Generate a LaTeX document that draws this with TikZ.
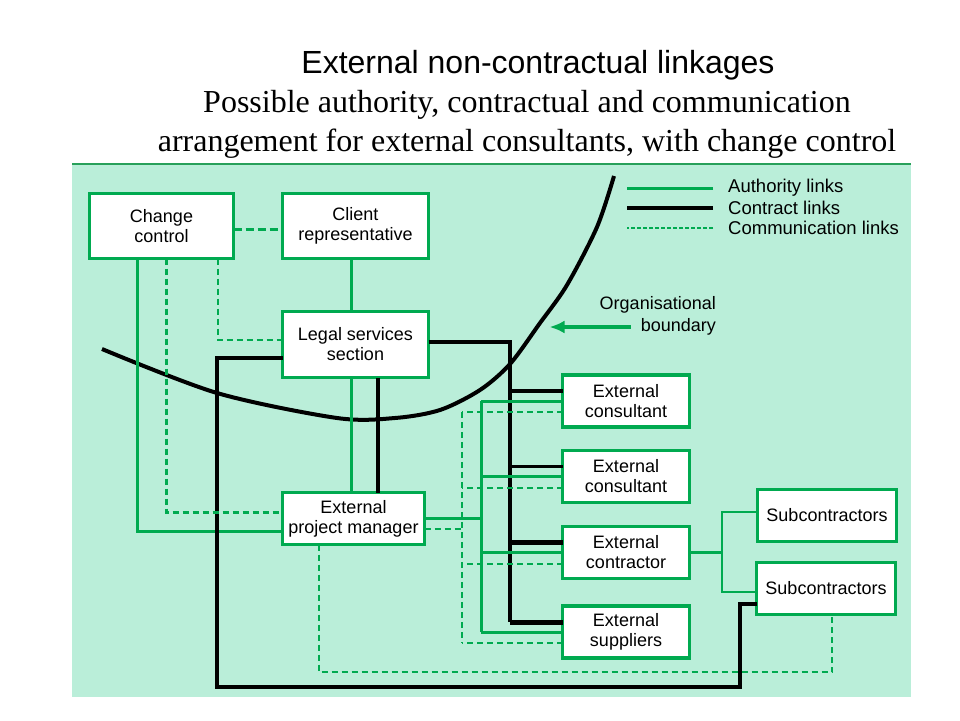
\documentclass[tikz,border=0pt]{standalone}
\usepackage{fontspec}
\setmainfont{Liberation Sans}
\newfontfamily\subtitlefont{Liberation Serif}
\usetikzlibrary{arrows.meta,positioning}
\definecolor{linkgreen}{RGB}{0,170,80}
\definecolor{panelgreen}{RGB}{186,238,217}
\definecolor{rulegreen}{RGB}{40,160,90}
\tikzset{font=\fontsize{18}{20}\selectfont}
\tikzset{box/.style={draw=linkgreen,line width=3.5pt,fill=white,align=center,inner sep=0pt,outer sep=0pt}}
\tikzset{auth/.style={draw=linkgreen,line width=3pt}}
\tikzset{contract/.style={draw=black,line width=3.5pt}}
\tikzset{comm/.style={draw=linkgreen,line width=2pt,dash pattern=on 6pt off 4pt}}
\tikzset{legend/.style={anchor=west,inner sep=0pt,font=\fontsize{18.5}{20}\selectfont}}

\begin{document}
\begin{tikzpicture}[x=1pt,y=-1pt]
  \useasboundingbox (0,0) rectangle (960,720);
  \fill[white] (0,0) rectangle (960,720);
  \fill[panelgreen] (72,164) rectangle (911,697);
  \draw[rulegreen,line width=2pt] (72,164) -- (911,164);

  \node[font=\fontsize{32}{34}\selectfont] (title) at (538,65) {External non-contractual linkages};
  \node[font=\subtitlefont\fontsize{32}{39}\selectfont,align=center] (subtitle) at (527,124)
    {Possible authority, contractual and communication\\arrangement for external consultants, with change control};

  \draw[line width=4pt] plot[smooth] coordinates {(102,349) (217,393) (337,418) (395,418) (440,410) (480,390) (510,364) (540,323) (567,285) (597,227) (614,176)};

  \node[box,minimum width=144pt,minimum height=65pt] (cc) at (161.5,226) {Change\\control};
  \node[box,minimum width=146pt,minimum height=65pt] (crep) at (355.5,226) {Client\\representative};
  \node[box,minimum width=146pt,minimum height=66pt] (lss) at (355.5,344.5) {Legal services\\section};
  \node[box,minimum width=142pt,minimum height=52pt] (epm) at (353.5,518.5) {External\\project manager};
  \node[box,minimum width=127pt,minimum height=52pt] (ec1) at (626,401) {External\\consultant};
  \node[box,minimum width=127pt,minimum height=52pt] (ec2) at (626,476.5) {External\\consultant};
  \node[box,minimum width=127pt,minimum height=52pt] (ecr) at (626,552.5) {External\\contractor};
  \node[box,minimum width=127pt,minimum height=52pt] (esu) at (626,632) {External\\suppliers};
  \node[box,minimum width=139pt,minimum height=52pt] (sub1) at (827,515.5) {Subcontractors};
  \node[box,minimum width=139pt,minimum height=52pt] (sub2) at (826,588.5) {Subcontractors};

  \draw[auth] ([xshift=-4.5pt]crep.south) -- ([xshift=-4.5pt]lss.north);
  \draw[auth] ([xshift=-4.5pt]lss.south) -- ([xshift=-2.5pt]epm.north);
  \draw[auth] ([xshift=-24.5pt]cc.south) |- ([yshift=-12.5pt]epm.west);
  \draw[auth] (epm.east) -- ++(56.5,0);
  \draw[auth] ([xshift=-81.5pt]ec1.west) -- ([xshift=-81.5pt]esu.west);
  \draw[auth,line width=2.5pt] (ecr.east) -- ++(32.5,0);
  \draw[auth,line width=2.5pt] ([yshift=3.5pt]sub1.west) -- ++(-35.5,0) |- ([yshift=-3.5pt]sub2.west);

  \draw[contract] ([xshift=22.5pt]lss.south) -- ([xshift=24.5pt]epm.north);
  \draw[contract] ([yshift=2.5pt]lss.east) -| ([xshift=-52.5pt,yshift=10pt]esu.west);
  \draw[contract] ([yshift=-13.5pt]lss.west) -| (217,687) -| (740,604) -- ([yshift=-15.5pt]sub2.west);

  \draw[comm,line width=3pt,dash pattern=on 8pt off 4pt] ([yshift=-3pt]cc.east) -- ([yshift=-3pt]crep.west);
  \draw[comm,line width=2.5pt] ([xshift=56.5pt]cc.south) |- ([yshift=4.5pt]lss.west);
  \draw[comm,line width=3pt] ([xshift=4.5pt]cc.south) |- ([yshift=6.5pt]epm.west);
  \draw[comm] ([yshift=-10.5pt]epm.east) -- ++(37.5,0);
  \draw[comm] ([xshift=-100.5pt,yshift=-11pt]ec1.west) -- ([xshift=-100.5pt,yshift=-11pt]esu.west);
  \draw[comm,line width=2.5pt] ([xshift=-34.5pt]epm.south) -- ++(0,127.5) -| ([xshift=6pt]sub2.south);

  \foreach \b/\w in {ec1/3.5pt,ec2/3.5pt,ecr/5pt,esu/5pt}{
    \draw[contract,line width=\w] ([yshift=10pt]\b.west) -- ++(-52.5,0);
    \draw[auth] (\b.west) -- ++(-81.5,0);
    \draw[comm] ([yshift=-11pt]\b.west) -- ++(-100.5,0);
  }

  \node[legend] (lauth) at (728,188) {Authority links};
  \node[legend] (lcontract) at (728,208) {Contract links};
  \node[legend] (lcomm) at (728,228) {Communication links};
  \draw[auth] ([xshift=-15pt]lauth.west) -- ++(-86,0);
  \draw[contract] ([xshift=-15pt]lcontract.west) -- ++(-86,0);
  \draw[comm,line width=1.2pt,dash pattern=on 4pt off 2pt] ([xshift=-15pt]lcomm.west) -- ++(-86,0);

  \node[align=right,anchor=east,inner sep=0pt,font=\fontsize{18}{22}\selectfont] (bnd) at (716,316) {Organisational\\boundary};
  \draw[linkgreen,line width=3.5pt,-{Latex[length=15pt,width=13pt]}] ([xshift=31pt,yshift=-11pt]bnd.west) -- ++(-81,0);
\end{tikzpicture}
\end{document}
